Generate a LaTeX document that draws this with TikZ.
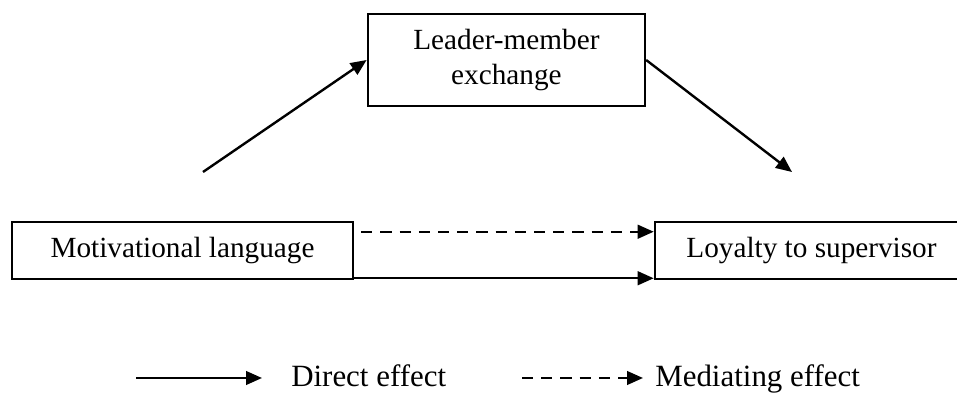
\documentclass[tikz,border=0pt]{standalone}
\usepackage{fontspec}
\setmainfont{Liberation Serif}
\usetikzlibrary{arrows.meta}
\begin{document}
\begin{tikzpicture}[box/.style={draw,line width=1.8pt,inner sep=0pt,align=center,font=\fontsize{20.8}{24.8}\selectfont},
arr/.style={line width=1.7pt,-{Triangle[length=0.4cm,width=0.34cm]}},
dsh/.style={arr,dash pattern=on 0.28cm off 0.2cm},
lgd/.style={inner sep=0pt,anchor=base west,font=\fontsize{22}{26}\selectfont}]
\useasboundingbox (0,0) rectangle (23.925,9.85);
\node[box,minimum width=6.925cm,minimum height=2.3cm] at (12.66,8.35) (lmx) {Leader-member\\exchange};
\node[box,minimum width=8.525cm,minimum height=1.425cm] at (4.5625,3.5875) (ml) {Motivational language};
\node[box,minimum width=7.825cm,minimum height=1.425cm] at (20.2875,3.5875) (ls) {Loyalty to supervisor};
\coordinate (a) at (5.075,5.55); \coordinate (b) at (19.8,5.55);
\draw[arr] (a) -- (lmx.west);
\draw[arr] (lmx.east) -- (b);
\draw[dsh] ([xshift=0.175cm,yshift=-0.275cm]ml.north east) -- ([yshift=-0.275cm]ls.north west);
\draw[arr] ([yshift=0.05cm]ml.south east) -- ([yshift=0.05cm]ls.south west);
\coordinate (c) at (3.4,0.4); \coordinate (d) at (6.55,0.4);
\coordinate (e) at (13.05,0.4); \coordinate (f) at (16.075,0.4);
\draw[arr] (c) -- (d); \node[lgd] at (7.275,0.175) (de) {Direct effect};
\draw[dsh] (e) -- (f); \node[lgd] at (16.375,0.175) (me) {Mediating effect};
\end{tikzpicture}
\end{document}
